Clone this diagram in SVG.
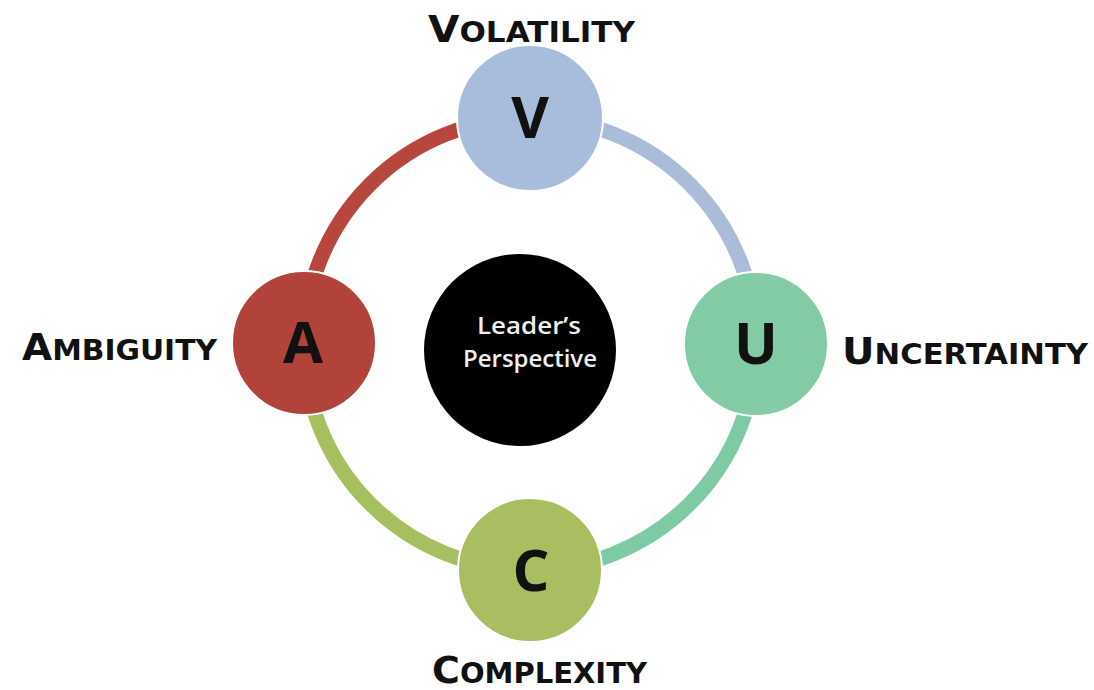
<svg xmlns="http://www.w3.org/2000/svg" width="1094" height="690" viewBox="0 0 1094 690">
<style>
.arc{fill:none;stroke-width:15;}
.node{stroke:#ffffff;stroke-width:2;}
.letter{font-family:"Open Sans","DejaVu Sans",sans-serif;font-weight:700;font-size:58px;fill:#111111;text-anchor:middle;}
.label{font-family:"DejaVu Sans","Verdana",sans-serif;font-weight:700;font-size:29px;fill:#111111;}
.big{font-size:38px;}
.center{font-family:"Open Sans","DejaVu Sans",sans-serif;font-weight:600;font-size:24px;fill:#eeeeee;text-anchor:middle;}
</style>
<rect width="1094" height="690" fill="#ffffff"/>
<g id="connectors">
<path class="arc" stroke="#b6463e" d="M304,344 A226,226 0 0 1 530,118"/>
<path class="arc" stroke="#aabcd8" d="M530,118 A226,226 0 0 1 756,344"/>
<path class="arc" stroke="#7ecaa4" d="M756,344 A226,226 0 0 1 530,570"/>
<path class="arc" stroke="#a6bf5f" d="M530,570 A226,226 0 0 1 304,344"/>
</g>
<g id="center">
<circle cx="520" cy="350" r="96" fill="#000000"/>
<text class="center" x="529" y="334" textLength="104" lengthAdjust="spacingAndGlyphs">Leader’s</text>
<text class="center" x="530" y="367" textLength="134" lengthAdjust="spacingAndGlyphs">Perspective</text>
</g>
<g id="volatility">
<circle class="node" cx="530" cy="118" r="73" fill="#a8bcdb"/>
<text class="letter" x="530" y="138">V</text>
<text class="label" x="428" y="42" textLength="207" lengthAdjust="spacingAndGlyphs"><tspan class="big">V</tspan>OLATILITY</text>
</g>
<g id="uncertainty">
<circle class="node" cx="756" cy="344" r="72" fill="#82cba5"/>
<text class="letter" x="756" y="364">U</text>
<text class="label" x="842" y="364" textLength="246" lengthAdjust="spacingAndGlyphs"><tspan class="big">U</tspan>NCERTAINTY</text>
</g>
<g id="complexity">
<circle class="node" cx="530" cy="570" r="72" fill="#a8be60"/>
<text class="letter" x="531" y="591">C</text>
<text class="label" x="432" y="683" textLength="215" lengthAdjust="spacingAndGlyphs"><tspan class="big">C</tspan>OMPLEXITY</text>
</g>
<g id="ambiguity">
<circle class="node" cx="304" cy="343" r="72" fill="#b2433b"/>
<text class="letter" x="303" y="363">A</text>
<text class="label" x="22" y="360" textLength="195" lengthAdjust="spacingAndGlyphs"><tspan class="big">A</tspan>MBIGUITY</text>
</g>
</svg>
